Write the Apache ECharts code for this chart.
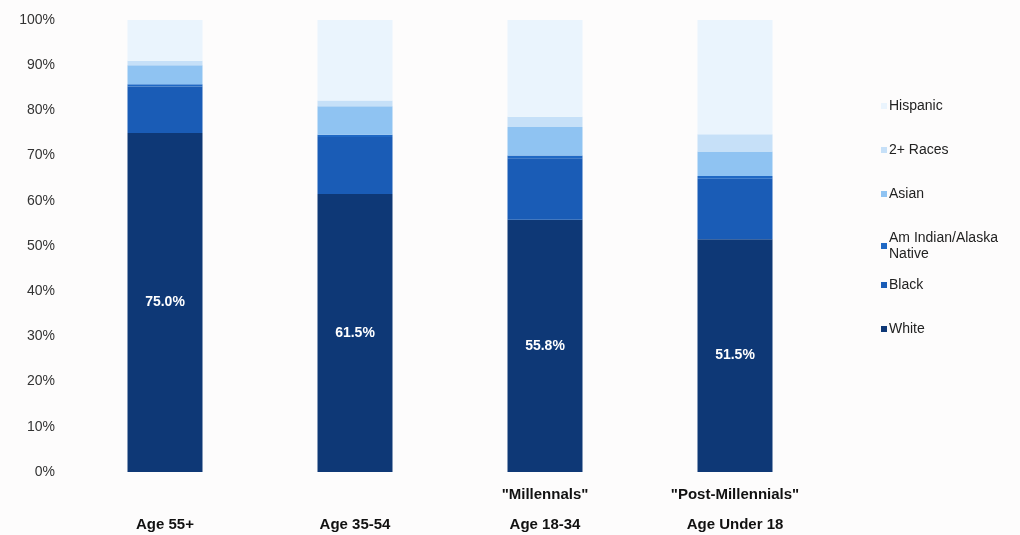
<!DOCTYPE html>
<html lang="en">
<head>
    <meta charset="UTF-8">
    <script src="https://cdn.jsdelivr.net/npm/echarts@6/dist/echarts.min.js"></script>
</head>
<body style="margin:0;background:#fdfcfc;">
    <div id="chart" style="width:1020px;height:535px;"></div>
    <script>
        var ageGroups = ['\nAge 55+', '\nAge 35-54', '"Millennals"\nAge 18-34', '"Post-Millennials"\nAge Under 18']
        var white = [75.0, 61.5, 55.8, 51.5]
        var black = [10.3, 12.6, 13.6, 13.4]
        var amIndian = [0.5, 0.5, 0.6, 0.6]
        var asian = [4.2, 6.3, 6.3, 5.4]
        var twoRaces = [1.0, 1.3, 2.3, 3.8]
        var hispanic = [9.0, 17.8, 21.4, 25.3]

        var names = ['White', 'Black', 'Am Indian/Alaska\nNative', 'Asian', '2+ Races', 'Hispanic']
        var colors = ['#0e3876', '#1a5cb6', '#1f68c4', '#8fc3f2', '#c6e0f8', '#eaf4fd']
        var legendColors = ['#1f2a5c', '#2b4f9c', '#3d86c0', '#9cc7e4', '#c9cfe0', '#eeeff3']
        var values = [white, black, amIndian, asian, twoRaces, hispanic]

        var series = values.map(function (arr, i) {
            return {
                name: names[i],
                type: 'bar',
                stack: 'total',
                barWidth: 75,
                data: arr,
                itemStyle: { color: colors[i] },
                label: i === 0 ? {
                    show: true,
                    position: 'inside',
                    color: '#fff',
                    fontWeight: 'bold',
                    fontSize: 14,
                    fontFamily: 'Liberation Sans, Arial',
                    formatter: function (p) { return p.value.toFixed(1) + '%' }
                } : { show: false }
            }
        })

        var legendBase = {
            orient: 'vertical',
            left: 876,
            itemWidth: 6,
            itemHeight: 6,
            itemGap: 28,
            icon: 'rect',
            textStyle: { fontSize: 14, color: '#222', fontFamily: 'Liberation Sans, Arial', padding: [0, 0, 0, -3], lineHeight: 16 }
        }

        var myChart = echarts.init(document.getElementById('chart'))
        myChart.setOption({
            animation: false,
            color: legendColors,
            grid: { left: 70, right: 190, top: 20, bottom: 63, outerBoundsMode: 'none', containLabel: false },
            legend: [
                Object.assign({}, legendBase, { top: 93, data: names.slice(2).reverse() }),
                Object.assign({}, legendBase, { top: 272, data: names.slice(0, 2).reverse() })
            ],
            xAxis: {
                type: 'category',
                data: ageGroups,
                axisLine: { show: false },
                axisTick: { show: false },
                axisLabel: {
                    interval: 0,
                    color: '#111',
                    fontWeight: 'bold',
                    fontSize: 15,
                    lineHeight: 30,
                    margin: 8,
                    fontFamily: 'Liberation Sans Narrow, Liberation Sans, Arial'
                }
            },
            yAxis: {
                type: 'value',
                min: 0,
                max: 100,
                interval: 10,
                axisLine: { show: false },
                axisTick: { show: false },
                splitLine: { show: false },
                axisLabel: {
                    formatter: '{value}%',
                    color: '#333',
                    fontSize: 14,
                    margin: 15,
                    fontFamily: 'Liberation Sans, Arial'
                }
            },
            series: series
        })
    </script>
</body>
</html>
